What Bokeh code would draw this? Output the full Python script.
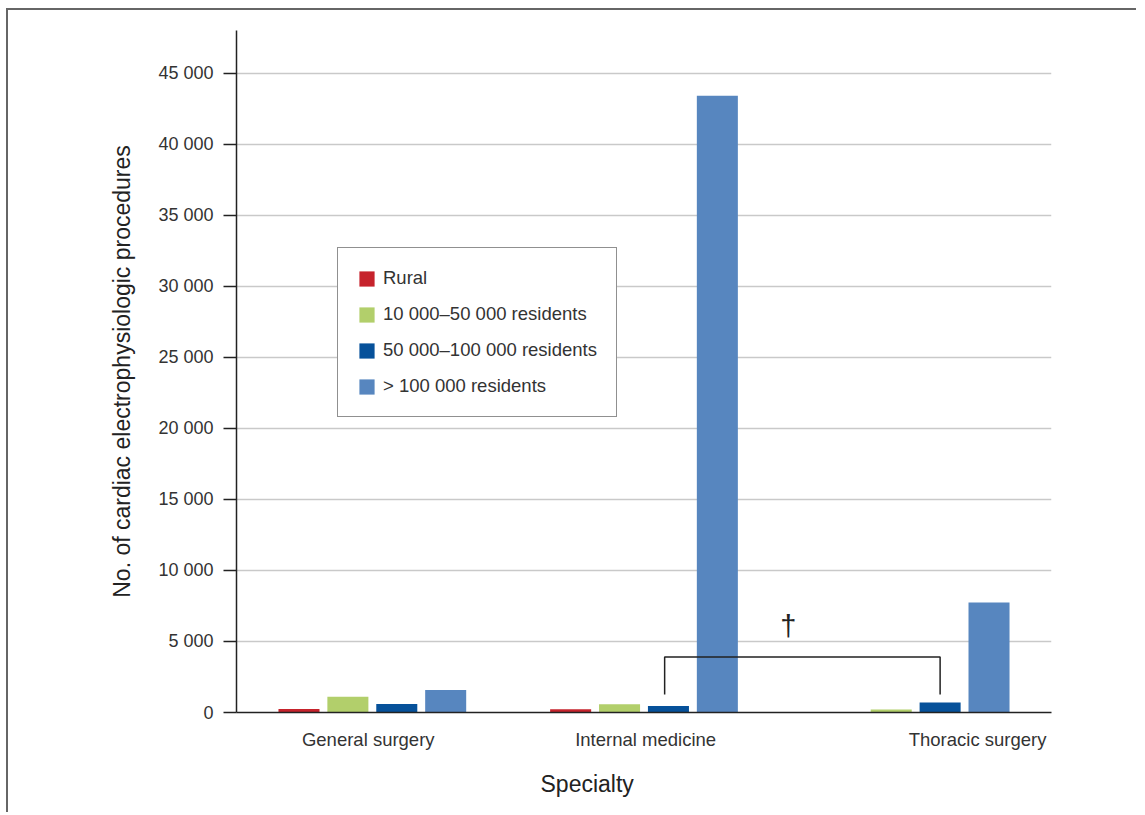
from bokeh.plotting import figure
from bokeh.models import Range1d, FixedTicker, Label, Legend, LegendItem, Title, CustomJSTickFormatter
from bokeh.embed import file_html
from bokeh.resources import INLINE

# ---- data ----
categories = ["General surgery", "Internal medicine", "Thoracic surgery"]
series_names = ["Rural", "10 000\u201350 000 residents", "50 000\u2013100 000 residents", "> 100 000 residents"]
rural = [240, 230, 0]
res_10k_50k = [1100, 585, 210]
res_50k_100k = [590, 450, 700]
res_over_100k = [1590, 43400, 7750]
y_ticks = [0, 5000, 10000, 15000, 20000, 25000, 30000, 35000, 40000, 45000]
y_tick_labels = ["0", "5 000", "10 000", "15 000", "20 000", "25 000", "30 000", "35 000", "40 000", "45 000"]

# ---- styling ----
colors = ["#c6232c", "#b2cf6b", "#06519a", "#5786bf"]
FONT = "Liberation Sans"
TXT = "#333333"
centers = [i + 0.5 for i in range(len(categories))]
pitch = 0.18
bar_w = 0.151
offsets = [-1.5 * pitch, -0.5 * pitch, 0.5 * pitch, 1.5 * pitch]
label_shift = [-0.015, 0.006, 0.228]   # horizontal nudges of the category labels (x units)

p = figure(width=1130, height=804, output_backend="svg", toolbar_location=None,
           title=None, x_range=Range1d(0, 3), y_range=Range1d(0, 48000),
           min_border_left=228, min_border_right=87, min_border_top=20, min_border_bottom=102)
p.styles = {"margin-left": "6px", "margin-top": "8px",
            "border-left": "2px solid #666666", "border-top": "2px solid #666666"}
p.outline_line_color = None
p.background_fill_color = "white"

all_series = [rural, res_10k_50k, res_50k_100k, res_over_100k]
renderers = []
for vals, off, col in zip(all_series, offsets, colors):
    xs = [c + off for c in centers]
    r = p.vbar(x=xs, top=vals, width=bar_w, fill_color=col, line_color=None)
    renderers.append(r)

# grid / axes
p.xgrid.visible = False
p.ygrid.grid_line_color = "#c9c9c9"
p.ygrid.grid_line_width = 1.5
p.ygrid.ticker = FixedTicker(ticks=y_ticks)

ya = p.yaxis[0]
ya.ticker = FixedTicker(ticks=y_ticks)
ya.major_label_overrides = {v: s for v, s in zip(y_ticks, y_tick_labels)}
ya.major_tick_out = 13
ya.major_tick_in = 0
ya.minor_tick_out = 0
ya.minor_tick_in = 0
ya.axis_line_color = "#222222"
ya.axis_line_width = 1.5
ya.major_tick_line_color = "#222222"
ya.major_tick_line_width = 1.5
ya.major_label_standoff = 10
ya.major_label_text_font = FONT
ya.major_label_text_font_size = "18px"
ya.major_label_text_color = TXT
ya.axis_label = "No. of cardiac electrophysiologic procedures"
ya.axis_label_text_font = FONT
ya.axis_label_text_font_size = "23px"
ya.axis_label_text_font_style = "normal"
ya.axis_label_text_color = "#222222"
ya.axis_label_standoff = 20

xa = p.xaxis[0]
xa.ticker = FixedTicker(ticks=[c + s for c, s in zip(centers, label_shift)])
xa.formatter = CustomJSTickFormatter(args=dict(names=categories), code="return names[index];")
xa.major_tick_out = 0
xa.major_tick_in = 0
xa.minor_tick_out = 0
xa.minor_tick_in = 0
xa.axis_line_color = "#222222"
xa.axis_line_width = 1.5
xa.major_label_standoff = 16
xa.major_label_text_font = FONT
xa.major_label_text_font_size = "18.5px"
xa.major_label_text_color = TXT

p.add_layout(Title(text="Specialty", align="left", offset=304, text_font=FONT,
                   text_font_size="23px", text_font_style="normal", text_color="#222222",
                   standoff=33), "below")

# significance bracket between 50 000-100 000 bars of IM and TS
bracket_top = 3900
bracket_foot = 1270
xl = centers[1] + offsets[2] - 0.014
xr = centers[2] + offsets[2]
p.line(x=[xl, xl, xr, xr], y=[bracket_foot, bracket_top, bracket_top, bracket_foot],
       line_color="#222222", line_width=1.5)
p.add_layout(Label(x=(xl + xr) / 2, y=bracket_top, x_offset=-14, y_offset=31, text="\u2020",
                   text_align="center", text_baseline="alphabetic", text_font=FONT,
                   text_font_size="29px", text_color="#222222"))

# legend
items = [LegendItem(label=n, renderers=[r]) for n, r in zip(series_names, renderers)]
leg = Legend(items=items, location=(101, 295), border_line_color="#222222",
             border_line_width=1.5, padding=19, spacing=14, label_height=20,
             glyph_height=19, glyph_width=19, label_standoff=7, margin=0,
             label_text_font=FONT, label_text_font_size="18.5px", label_text_color=TXT,
             background_fill_alpha=1.0)
p.add_layout(leg, "center")

open("out.html", "w").write(file_html(p, INLINE))
